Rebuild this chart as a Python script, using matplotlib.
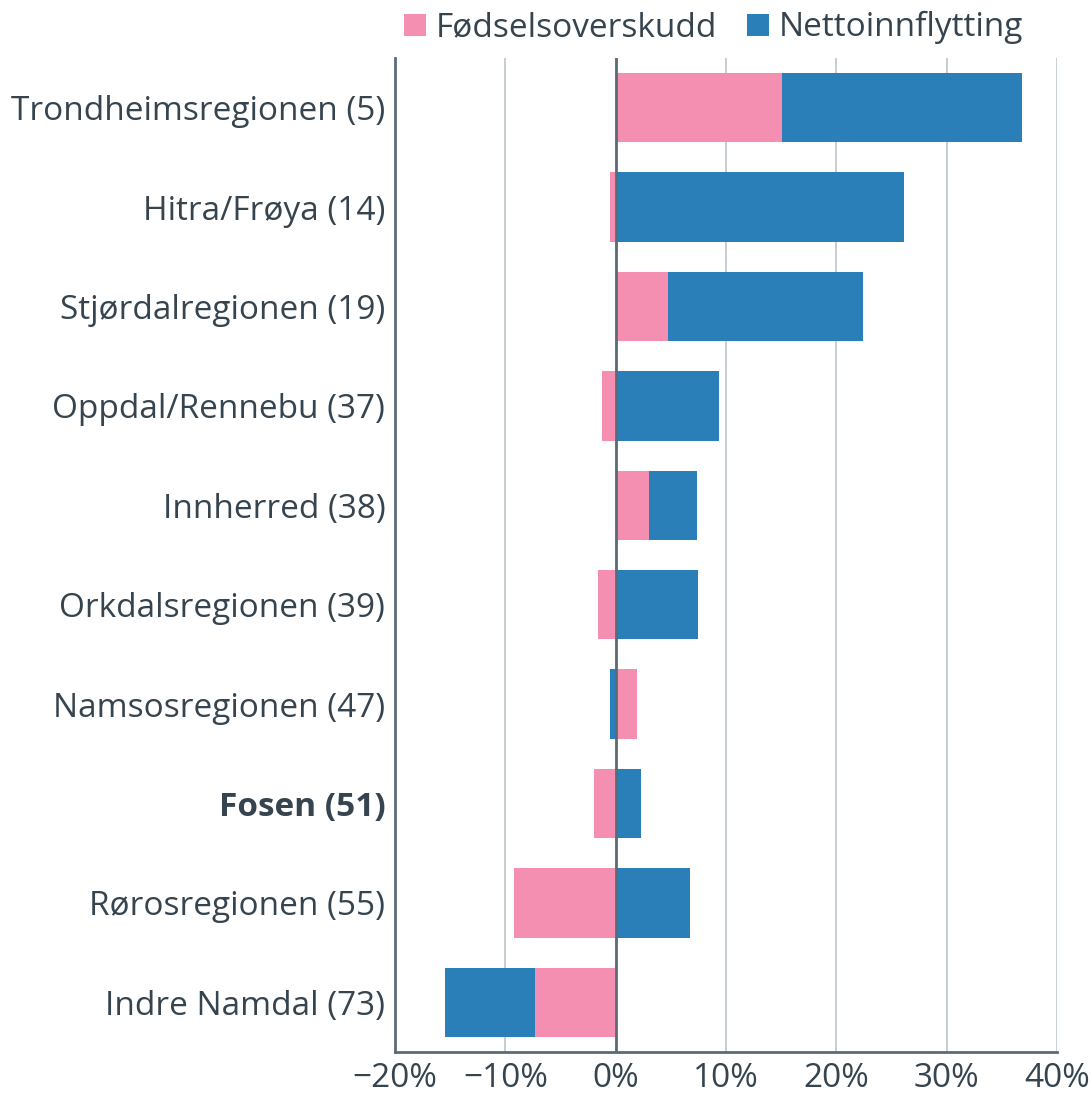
import matplotlib.pyplot as plt
import numpy as np
from matplotlib.ticker import FuncFormatter

regions = ['Trondheimsregionen (5)', 'Hitra/Frøya (14)', 'Stjørdalregionen (19)',
           'Oppdal/Rennebu (37)', 'Innherred (38)', 'Orkdalsregionen (39)',
           'Namsosregionen (47)', 'Fosen (51)', 'Rørosregionen (55)', 'Indre Namdal (73)']
fodsel = [15.1, -0.5, 4.7, -1.2, 3.0, -1.6, 1.9, -2.0, -9.2, -7.3]
netto = [21.7, 26.1, 17.7, 9.4, 4.4, 7.5, -0.5, 2.3, 6.7, -8.2]

pink = '#f48fb1'
blue = '#2a7fb8'
txt = '#35444f'

plt.rcParams['font.family'] = ['Open Sans', 'DejaVu Sans']

fig = plt.figure(figsize=(10.92, 10.94), dpi=100)
ax = fig.add_axes([395/1092, 1 - 1052/1094, (1057-395)/1092, (1052-58)/1094])

y = np.arange(len(regions))
f = np.array(fodsel)
n = np.array(netto)
# stack positives to the right, negatives to the left
f_left = np.zeros(len(f))
n_left = np.where(np.sign(n) == np.sign(f), f, 0)
ax.barh(y, f, left=f_left, height=0.7, color=pink, label='Fødselsoverskudd', zorder=3)
ax.barh(y, n, left=n_left, height=0.7, color=blue, label='Nettoinnflytting', zorder=3)

ax.set_xlim(-20, 40)
ax.set_ylim(len(regions) - 0.5, -0.5)
ax.set_xticks(np.arange(-20, 41, 10))
ax.xaxis.set_major_formatter(FuncFormatter(lambda v, p: f'{v:.0f}%'.replace('-', '\u2212')))
ax.set_yticks(y)
ax.set_yticklabels(regions)
for lab in ax.get_yticklabels():
    if lab.get_text().startswith('Fosen'):
        lab.set_fontweight('bold')

ax.grid(axis='x', color='#bcc6cd', linewidth=1.2, zorder=0)
ax.axvline(0, color='#5b6b76', linewidth=2, zorder=4)
for s in ['top', 'right']:
    ax.spines[s].set_visible(False)
for s in ['left', 'bottom']:
    ax.spines[s].set_color('#5b6b76')
    ax.spines[s].set_linewidth(2)
ax.tick_params(axis='both', length=0, labelsize=24, colors=txt)
ax.tick_params(axis='x', pad=7)
ax.tick_params(axis='y', pad=7)

leg = fig.legend(loc='upper left', bbox_to_anchor=(384/1092, 1.008), ncol=2, frameon=False,
                 fontsize=24, handlelength=0.65, handleheight=0.65, handletextpad=0.3,
                 columnspacing=0.9, borderaxespad=0.2)
for t in leg.get_texts():
    t.set_color(txt)

plt.savefig('out.png', dpi=100)
